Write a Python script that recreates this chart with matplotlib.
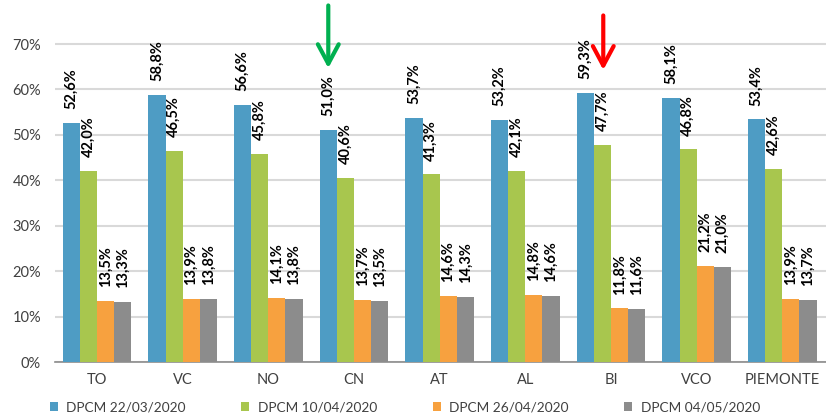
import numpy as np
import matplotlib
matplotlib.use("Agg")
import matplotlib.pyplot as plt

plt.rcParams['font.family'] = ['Lato', 'DejaVu Sans']

categories = ["TO", "VC", "NO", "CN", "AT", "AL", "BI", "VCO", "PIEMONTE"]
series_names = ["DPCM 22/03/2020", "DPCM 10/04/2020", "DPCM 26/04/2020", "DPCM 04/05/2020"]
dpcm_2203 = [52.6, 58.8, 56.6, 51.0, 53.7, 53.2, 59.3, 58.1, 53.4]
dpcm_1004 = [42.0, 46.5, 45.8, 40.6, 41.3, 42.1, 47.7, 46.8, 42.6]
dpcm_2604 = [13.5, 13.9, 14.1, 13.7, 14.6, 14.8, 11.8, 21.2, 13.9]
dpcm_0405 = [13.3, 13.8, 13.8, 13.5, 14.3, 14.6, 11.6, 21.0, 13.7]
colors = ["#4E9CC4", "#A8C64E", "#F7A13F", "#8C8C8C"]

fig = plt.figure(figsize=(8.26, 4.15), dpi=100)
ax = fig.add_axes([0.0666, 0.1277, 0.9334, 0.788])

x = np.arange(len(categories))
width = 0.2
offsets = [-0.3, -0.1, 0.1, 0.3]
all_series = [dpcm_2203, dpcm_1004, dpcm_2604, dpcm_0405]
handles = []
for vals, off, col, name in zip(all_series, offsets, colors, series_names):
    bars = ax.bar(x + off, vals, width, color=col, label=name, zorder=3)
    handles.append(bars)
    for xi, v in zip(x + off, vals):
        ax.annotate(f"{v:.1f}%".replace(".", ","), (xi, v), xytext=(0, 10),
                    textcoords="offset points", rotation=90, ha="center", va="bottom",
                    fontsize=10.5, fontweight="bold", color="black")

# arrows drawn on the original slide
arrow_style = "->,head_length=1.4,head_width=0.75"
ax.annotate("", xy=(2.7, 64.7), xytext=(2.7, 78.5), annotation_clip=False,
            arrowprops=dict(arrowstyle=arrow_style, color="#00B050", lw=3,
                            shrinkA=0, shrinkB=0))
ax.annotate("", xy=(5.91, 64.3), xytext=(5.91, 76.3), annotation_clip=False,
            arrowprops=dict(arrowstyle=arrow_style, color="#FF0000", lw=3,
                            shrinkA=0, shrinkB=0))

ax.set_xlim(-0.49, 8.51)
ax.set_ylim(0, 72)
ax.set_yticks(np.arange(0, 71, 10))
ax.set_yticklabels([f"{v}%" for v in range(0, 71, 10)])
ax.set_xticks(x)
ax.set_xticklabels(categories)
ax.grid(axis="y", color="#D9D9D9", linewidth=1.5, zorder=0)
for s in ["top", "right", "left"]:
    ax.spines[s].set_visible(False)
ax.spines["bottom"].set_color("#8C8C8C")
ax.spines["bottom"].set_linewidth(1.2)
ax.tick_params(axis="both", length=0, labelsize=10.5, colors="#404040")
ax.tick_params(axis="x", pad=8)
ax.tick_params(axis="y", pad=10)

fig.legend(handles=handles, labels=series_names, loc="lower center", ncol=4,
           bbox_to_anchor=(0.49, -0.025), frameon=False, fontsize=9.8,
           handlelength=0.6, handleheight=0.6, columnspacing=4.1, handletextpad=0.6,
           labelcolor="#404040")

fig.savefig("out.png", dpi=100)
